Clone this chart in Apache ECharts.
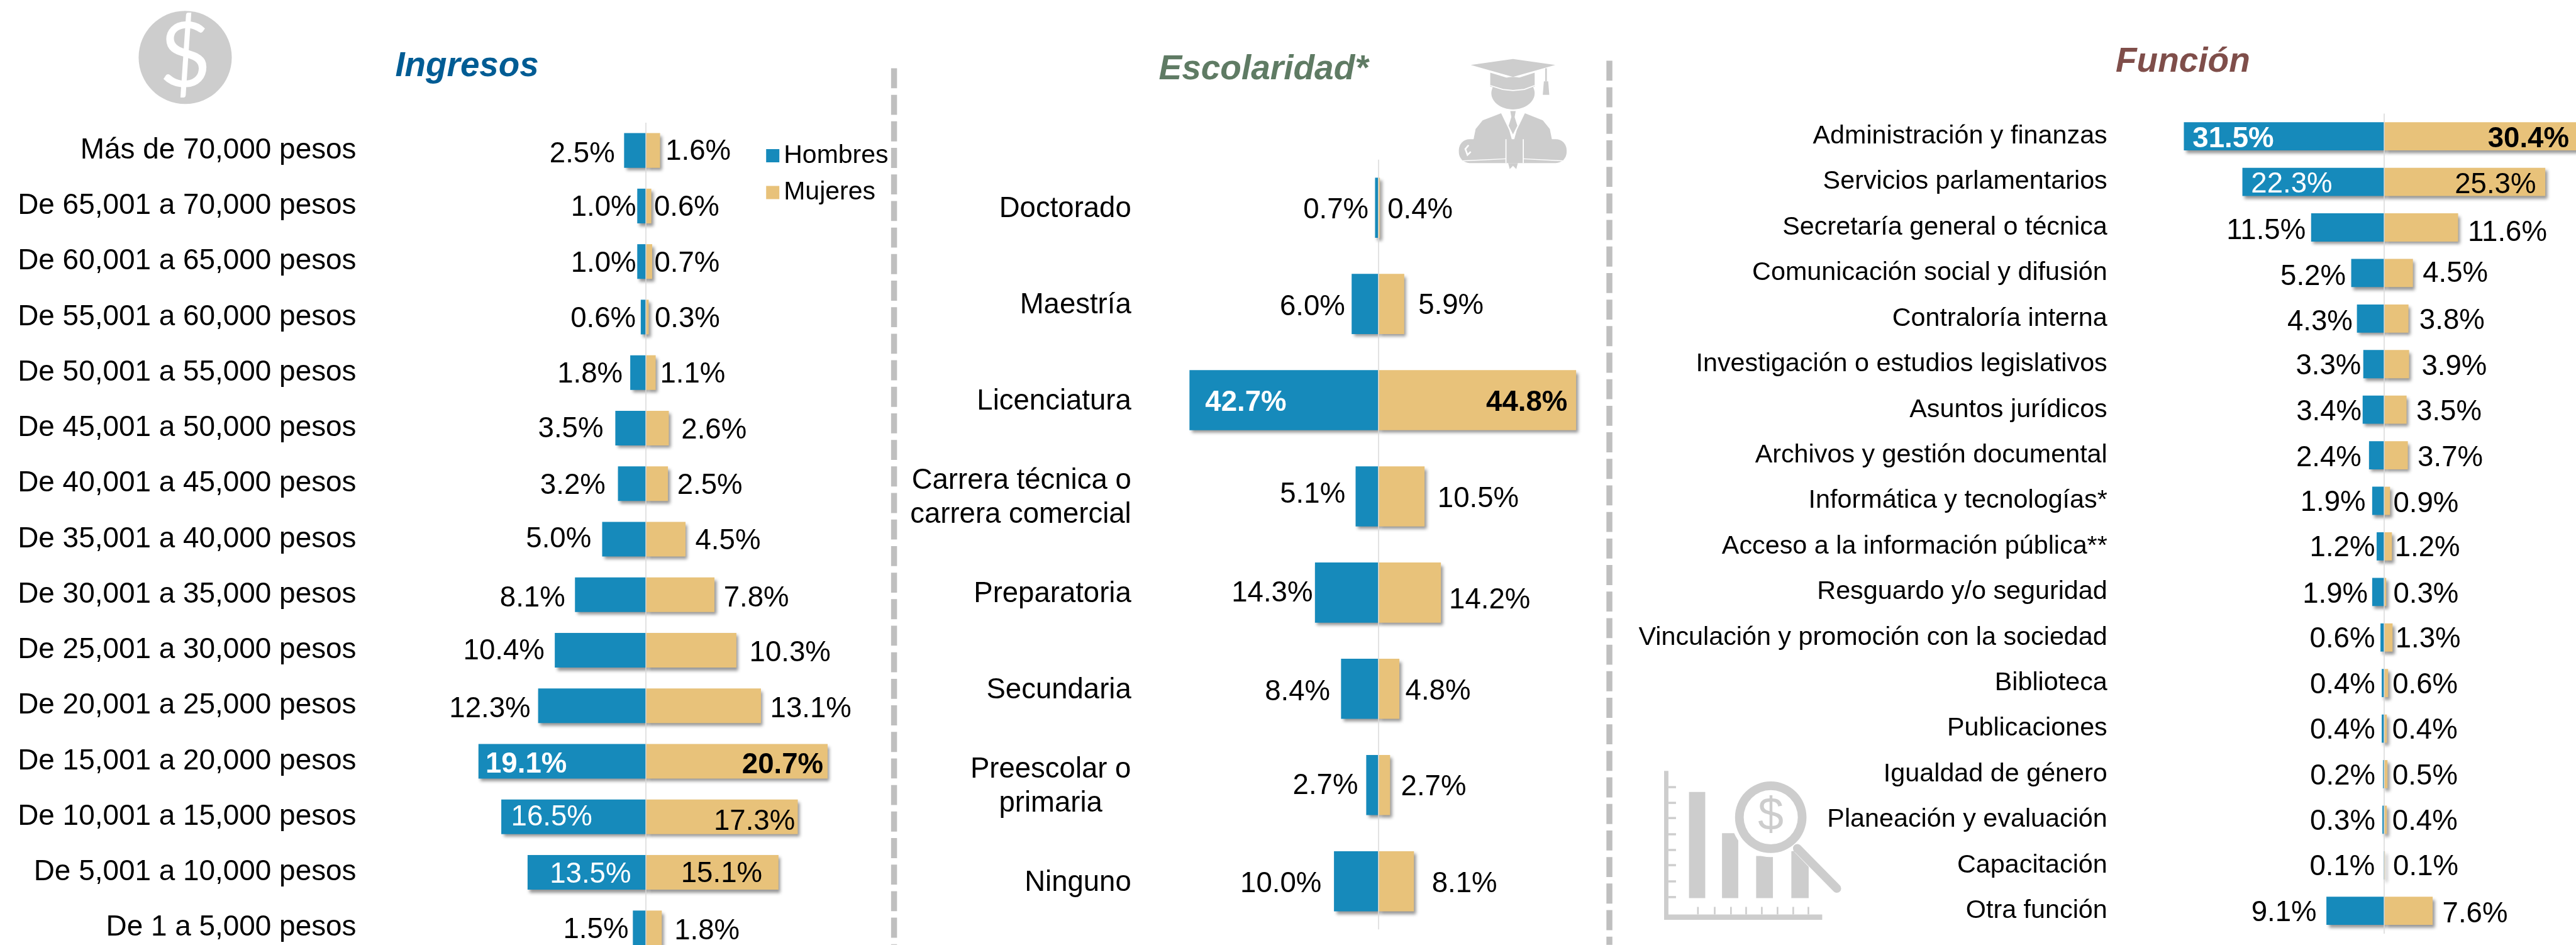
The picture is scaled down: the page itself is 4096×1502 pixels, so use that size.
<!DOCTYPE html>
<html>
<head>
<meta charset="utf-8">
<style>html,body{margin:0;padding:0;background:#fff}#c{width:4096px;height:1502px}</style>
<script src="https://cdn.jsdelivr.net/npm/echarts@6/dist/echarts.min.js"></script>
</head>
<body>
<div id="c"></div>
<script>
// ---- data ----
const ingresosCategorias = ['Más de 70,000 pesos','De 65,001 a 70,000 pesos','De 60,001 a 65,000 pesos','De 55,001 a 60,000 pesos','De 50,001 a 55,000 pesos','De 45,001 a 50,000 pesos','De 40,001 a 45,000 pesos','De 35,001 a 40,000 pesos','De 30,001 a 35,000 pesos','De 25,001 a 30,000 pesos','De 20,001 a 25,000 pesos','De 15,001 a 20,000 pesos','De 10,001 a 15,000 pesos','De 5,001 a 10,000 pesos','De 1 a 5,000 pesos'];
const ingresosHombres = [2.5,1.0,1.0,0.6,1.8,3.5,3.2,5.0,8.1,10.4,12.3,19.1,16.5,13.5,1.5];
const ingresosMujeres = [1.6,0.6,0.7,0.3,1.1,2.6,2.5,4.5,7.8,10.3,13.1,20.7,17.3,15.1,1.8];

const escolaridadCategorias = ['Doctorado','Maestría','Licenciatura','Carrera técnica o\ncarrera comercial','Preparatoria','Secundaria','Preescolar o\nprimaria','Ninguno'];
const escolaridadHombres = [0.7,6.0,42.7,5.1,14.3,8.4,2.7,10.0];
const escolaridadMujeres = [0.4,5.9,44.8,10.5,14.2,4.8,2.7,8.1];

const funcionCategorias = ['Administración y finanzas','Servicios parlamentarios','Secretaría general o técnica','Comunicación social y difusión','Contraloría interna','Investigación o estudios legislativos','Asuntos jurídicos','Archivos y gestión documental','Informática y tecnologías*','Acceso a la información pública**','Resguardo y/o seguridad','Vinculación y promoción con la sociedad','Biblioteca','Publicaciones','Igualdad de género','Planeación y evaluación','Capacitación','Otra función'];
const funcionHombres = [31.5,22.3,11.5,5.2,4.3,3.3,3.4,2.4,1.9,1.2,1.9,0.6,0.4,0.4,0.2,0.3,0.1,9.1];
const funcionMujeres = [30.4,25.3,11.6,4.5,3.8,3.9,3.5,3.7,0.9,1.2,0.3,1.3,0.6,0.4,0.5,0.4,0.1,7.6];

// ---- label placement (reference pixels: [gap from bar edge, vertical shift]) ----
const ingresosGapH = [[17,3],[2,0],[2,0],[9,0],[14,0],[22,-2],[23,0],[20,-3],[18,3],[19,-2],[14,2],[13,2],[18,-3],[41,0],[8,0]];
const ingresosGapM = [[10,-2],[5,0],[4,0],[11,0],[8,0],[23,0],[17,0],[18,0],[17,3],[24,2],[17,2],[8,3],[5,6],[30,-1],[23,3]];
const escolaridadGapH = [[12,1],[12,2],[29,1],[19,-7],[4,-2],[20,3],[15,-2],[23,1]];
const escolaridadGapM = [[14,1],[26,0],[16,1],[24,1],[15,11],[11,1],[20,0],[33,2]];
const funcionGapH = [[16,1],[16,1],[10,3],[10,4],[8,3],[4,0],[2,1],[14,1],[12,0],[3,0],[8,1],[10,0],[12,0],[12,0],[14,0],[13,0],[16,0],[18,0]];
const funcionGapM = [[16,1],[17,2],[18,6],[18,-2],[20,1],[23,1],[18,1],[18,1],[6,2],[5,0],[13,1],[5,0],[8,0],[10,0],[9,0],[10,0],[15,0],[18,2]];
const ingresosInside = {11:'bold',12:'normal',13:'normal'};
const escolaridadInside = {2:'bold'};
const funcionInside = {0:'bold',1:'normal'};

// ---- styling ----
const S = 4096 / 4757;
const BLUE = '#168ABB', TAN = '#E8C27A', GREY = '#CDCDCD';
const FONT = '"Liberation Sans", Arial, sans-serif';
const LABEL_SIZE = 45.6;
const TEXT_DROP = 3.5;

const grids = [], xAxes = [], yAxes = [], series = [];

function makeLabel(side, value, gap, inside) {
  const isH = side === 'h';
  return {
    show: true,
    position: inside ? (isH ? 'insideLeft' : 'insideRight') : (isH ? 'left' : 'right'),
    distance: gap[0] * S,
    offset: [0, gap[1] * S + TEXT_DROP],
    fontFamily: FONT,
    fontSize: LABEL_SIZE,
    fontWeight: inside === 'bold' ? 'bold' : 'normal',
    color: inside && isH ? '#ffffff' : '#000000',
    formatter: value.toFixed(1) + '%'
  };
}

function addPanel(p) {
  const i = grids.length;
  const half = p.halfPct * p.pxPerPct;
  grids.push({left:(p.center-half)*S, width:2*half*S, top:p.top*S, height:p.rowH*p.categories.length*S, containLabel:false, outerBoundsMode:'none'});
  xAxes.push({
    type:'value', gridIndex:i, min:-p.halfPct, max:p.halfPct, interval:p.halfPct, z:3,
    axisLabel:{show:false}, axisTick:{show:false}, axisLine:{show:false},
    splitLine:{show:true, showMinLine:false, showMaxLine:false, lineStyle:{color:'#D9D9D9', width:1.5}}
  });
  yAxes.push({
    type:'category', gridIndex:i, inverse:true, data:p.categories,
    axisTick:{show:false}, axisLine:{show:false}, splitLine:{show:false},
    axisLabel:Object.assign({color:'#000', fontFamily:FONT, fontSize:p.catSize, margin:p.catMargin*S, lineHeight:54, align:'right', padding:[p.catDrop,0,0,0]}, p.catExtra||{})
  });
  const common = {type:'bar', xAxisIndex:i, yAxisIndex:i, barWidth:p.barH*S, barGap:'-100%', animation:false, silent:true};
  const shadow = {shadowColor:'rgba(0,0,0,0.42)', shadowBlur:5, shadowOffsetX:3.5, shadowOffsetY:4.5};
  series.push(Object.assign({}, common, {
    name:'Hombres', itemStyle:Object.assign({color:BLUE}, shadow),
    data:p.hombres.map((v,k)=>({value:-v, label:makeLabel('h', v, p.gapH[k], p.inside[k])}))
  }));
  series.push(Object.assign({}, common, {
    name:'Mujeres', itemStyle:Object.assign({color:TAN}, shadow),
    data:p.mujeres.map((v,k)=>({value:v, label:makeLabel('m', v, p.gapM[k], p.inside[k])}))
  }));
}

addPanel({categories:ingresosCategorias, hombres:ingresosHombres, mujeres:ingresosMujeres, gapH:ingresosGapH, gapM:ingresosGapM, inside:ingresosInside,
  center:1193, pxPerPct:16.2, halfPct:32, top:226.5, rowH:102.5, barH:64, catSize:45.9, catMargin:16.6, catDrop:9});
addPanel({categories:escolaridadCategorias, hombres:escolaridadHombres, mujeres:escolaridadMujeres, gapH:escolaridadGapH, gapM:escolaridadGapM, inside:escolaridadInside,
  center:2545, pxPerPct:8.16, halfPct:54, top:294.7, rowH:177.6, barH:111, catSize:45.5, catMargin:15.4, catDrop:5,
  catExtra:{
    formatter:v=>v.indexOf('Preescolar')===0 ? v.split('\n').map(l=>'{c|'+l+'}').join('\n') : v,
    rich:{c:{width:256, align:'center', fontFamily:FONT, fontSize:45.5, lineHeight:54, color:'#000'}}
  }});
addPanel({categories:funcionCategorias, hombres:funcionHombres, mujeres:funcionMujeres, gapH:funcionGapH, gapM:funcionGapM, inside:funcionInside,
  center:4403, pxPerPct:11.75, halfPct:40, top:209.6, rowH:84.1, barH:52, catSize:41.3, catMargin:41.5, catDrop:9});

// ---- decorative drawing, given in reference pixels ----
const pts = a => a.map(q=>[q[0]*S,q[1]*S]);
const fill = (shape, type, color) => ({type, shape, style:{fill:color||GREY}, silent:true, z:1});
const poly = (a,color) => fill({points:pts(a)}, 'polygon', color);
const rect = (x,y,w,h,r,color) => fill({x:x*S,y:y*S,width:w*S,height:h*S,r:(r||0)*S}, 'rect', color);
const ell = (cx,cy,rx,ry,color) => fill({cx:cx*S,cy:cy*S,rx:rx*S,ry:ry*S}, 'ellipse', color);
const line = (a,w,color,cap) => ({type:'polyline', shape:{points:pts(a)}, style:{stroke:color||GREY, lineWidth:w*S, fill:null, lineCap:cap||'butt'}, silent:true, z:1});
const txt = (t,x,y,size,color,weight,family) => ({type:'text', x:x*S, y:y*S, silent:true, z:2,
  style:{text:t, fill:color, font:(weight||'normal')+' '+(size*S)+'px '+(family||FONT), textAlign:'center', textVerticalAlign:'middle'}});
const dash = (x,top) => ({type:'line', silent:true, z:1, shape:{x1:x*S,y1:top*S,x2:x*S,y2:1744*S},
  style:{stroke:'#BFBFBF', lineWidth:11*S, lineDash:[37*S,12*S]}});

const graphics = [
  dash(1651,126), dash(2972,112),
  // coin
  ell(342,106,86,86),
  txt('$',342,107,166,'#ffffff','normal','Lato'),
  // graduate
  poly([[2716,120],[2794,109],[2872,120],[2794,142]]),
  poly([[2752,134],[2794,147],[2834,134],[2834,160],[2794,169],[2752,160]]),
  ell(2794,172,40,30),
  line([[2752,158],[2775,165],[2794,167],[2815,165],[2834,158]],2,'#ffffff'),
  line([[2855,126],[2855,150]],3),
  poly([[2851,150],[2859,150],[2861,175],[2849,175]]),
  poly([[2721,258],[2725,238],[2738,222],[2772,209],[2787,240],[2792,258]]),
  poly([[2866,258],[2862,238],[2849,222],[2816,209],[2801,240],[2796,258]]),
  poly([[2789,205],[2799,205],[2797,216],[2802,232],[2794,248],[2786,232],[2791,216]]),
  rect(2694,257,199,44,20),
  line([[2781,257],[2781,301]],2,'#ffffff'),
  line([[2813,257],[2813,301]],2,'#ffffff'),
  line([[2700,297],[2781,293]],1.5,'#ffffff'),
  line([[2813,293],[2888,297]],1.5,'#ffffff'),
  line([[2712,268],[2706,275],[2710,286],[2716,280]],3,'#ffffff'),
  poly([[2785,301],[2803,301],[2800,312],[2794,306],[2788,312]]),
  // analysis icon
  rect(3073,1423,8,275),
  rect(3073,1688,292,10),
  ...[1451,1480,1508,1538,1567,1595,1625,1654].map(y=>rect(3081,y,14,4)),
  ...[3134,3165,3195,3223,3252,3281,3310,3338].map(x=>rect(x,1674,3,14)),
  rect(3119,1462,30,196),
  rect(3180,1538,30,120),
  rect(3243,1580,31,78),
  rect(3308,1571,32,87),
  ell(3270,1508,74,74,'#ffffff'),
  line([[3321,1566],[3394,1642]],20,'#ffffff'),
  line([[3319,1566],[3392,1640]],16,GREY,'round'),
  {type:'ring', silent:true, z:1, shape:{cx:3270*S, cy:1508.5*S, r:66*S, r0:50*S}, style:{fill:GREY}},
  txt('$',3270,1508,85,GREY,'normal')
];

const titles = [
  {text:'Ingresos', left:724*S, top:85*S, textStyle:{color:'#005C94', fontFamily:FONT, fontSize:54.8, fontStyle:'italic', fontWeight:'bold'}},
  {text:'Escolaridad*', left:2134*S, top:91*S, textStyle:{color:'#5F7B64', fontFamily:FONT, fontSize:55, fontStyle:'italic', fontWeight:'bold'}},
  {text:'Función', left:3901*S, top:77*S, textStyle:{color:'#7F4E4A', fontFamily:FONT, fontSize:55, fontStyle:'italic', fontWeight:'bold'}}
];

const chart = echarts.init(document.getElementById('c'), null, {renderer:'canvas'});
chart.setOption({
  backgroundColor:'#ffffff',
  animation:false,
  title:titles,
  legend:{
    show:true, orient:'vertical', left:1409*S, top:222, icon:'rect', selectedMode:false,
    data:['Hombres','Mujeres'], itemWidth:21, itemHeight:21, itemGap:17.5,
    itemStyle:{shadowBlur:0, shadowOffsetX:0, shadowOffsetY:0, shadowColor:'transparent'},
    textStyle:{color:'#000', fontFamily:FONT, fontSize:41, padding:[0,0,0,2]}
  },
  grid:grids, xAxis:xAxes, yAxis:yAxes, series:series,
  graphic:{elements:graphics}
});
</script>
</body>
</html>
